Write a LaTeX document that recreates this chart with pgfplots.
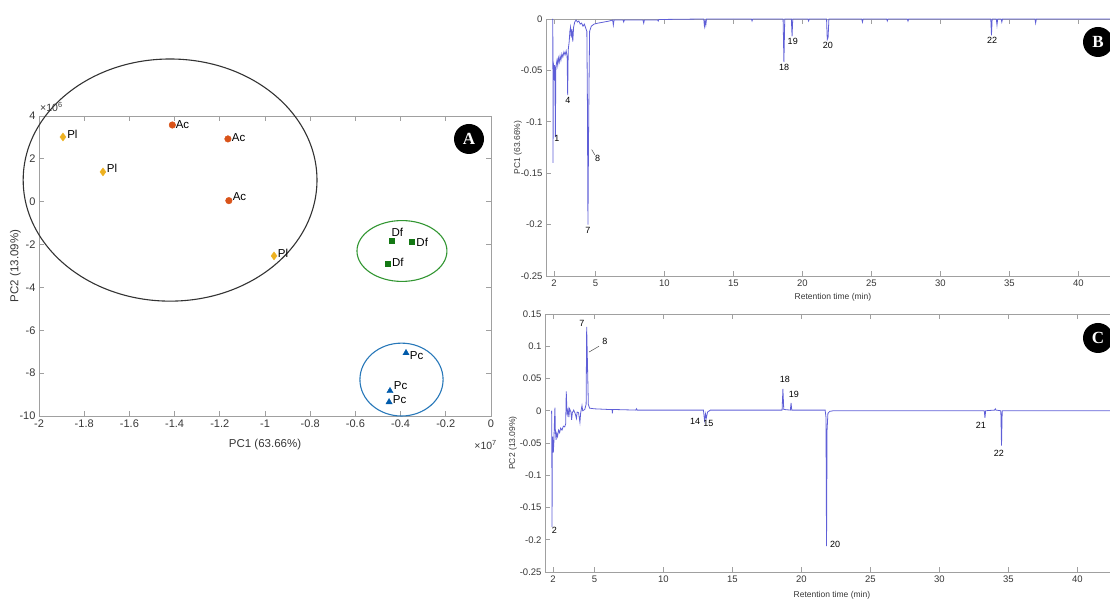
\documentclass[border=0pt]{standalone}
\usepackage{pgfplots}
\pgfplotsset{compat=1.18}
\usepackage{fontspec}
\setmainfont{Liberation Sans}
\newfontfamily\badgefont{Liberation Serif}
\definecolor{lineblue}{RGB}{95,95,215}
\definecolor{acc}{RGB}{217,83,25}
\definecolor{plc}{RGB}{237,177,32}
\definecolor{dfc}{RGB}{20,120,20}
\definecolor{pcc}{RGB}{0,90,170}
\definecolor{ellg}{RGB}{50,150,50}
\definecolor{ellb}{RGB}{40,120,185}
\definecolor{axgray}{RGB}{160,160,160}
\definecolor{txtgray}{RGB}{55,55,55}
\pgfplotsset{
  myax/.style={scale only axis, axis line style={axgray, line width=0.9pt},
    tick style={axgray, line width=0.9pt}, major tick length=5pt, tick align=inside,
    ticklabel style={text=txtgray}, label style={text=txtgray}},
}
\tikzset{pk/.style={font=\fontsize{9}{10}\selectfont, text=black, inner sep=1pt}}
\begin{document}
\begin{tikzpicture}[x=1pt,y=1pt]
\useasboundingbox (0pt,0pt) rectangle (1110pt,599pt);
\clip (0pt,0pt) rectangle (1110pt,599pt);

% ---------------- Panel A ----------------
\begin{axis}[myax, at={(39pt,183pt)}, anchor=south west, width=452pt, height=300pt,
  xmin=-2, xmax=0, ymin=-10, ymax=4, clip=false,
  xtick={-2,-1.8,-1.6,-1.4,-1.2,-1,-0.8,-0.6,-0.4,-0.2,0},
  xticklabels={-2,-1.8,-1.6,-1.4,-1.2,-1,-0.8,-0.6,-0.4,-0.2,0},
  ytick={-10,-8,-6,-4,-2,0,2,4},
  yticklabels={-10,-8,-6,-4,-2,0,2,4},
  tick label style={font=\fontsize{11}{13}\selectfont},
  label style={font=\fontsize{11.5}{13}\selectfont},
  xlabel={PC1 (63.66\%)}, ylabel={PC2 (13.09\%)},
  xlabel style={yshift=-5pt}, ylabel style={yshift=-8pt}]
\draw[black!80, line width=1.1pt] (axis cs:-1.42,1.01) ellipse [x radius=0.65, y radius=5.65];
\draw[ellg, line width=1.1pt] (axis cs:-0.394,-2.30) ellipse [x radius=0.199, y radius=1.42];
\draw[ellb, line width=1.1pt] (axis cs:-0.396,-8.30) ellipse [x radius=0.184, y radius=1.70];
\addplot[only marks, mark=*, mark size=3.3pt, color=acc] coordinates {(-1.41,3.58) (-1.164,2.93) (-1.16,0.05)};
\addplot[only marks, mark=diamond*, mark size=4pt, color=plc] coordinates {(-1.894,3.02) (-1.717,1.39) (-0.96,-2.53)};
\addplot[only marks, mark=square*, mark size=2.5pt, color=dfc] coordinates {(-0.438,-1.83) (-0.35,-1.85) (-0.456,-2.9)};
\addplot[only marks, mark=triangle*, mark size=3.6pt, color=pcc] coordinates {(-0.376,-7.06) (-0.447,-8.83) (-0.451,-9.35)};
\begin{scope}[every node/.style={font=\fontsize{11.5}{13}\selectfont, anchor=west, inner sep=1pt}]
\node at (axis cs:-1.40,3.62) {Ac};
\node at (axis cs:-1.152,3.0) {Ac};
\node at (axis cs:-1.148,0.22) {Ac};
\node at (axis cs:-1.88,3.15) {Pl};
\node at (axis cs:-1.705,1.55) {Pl};
\node at (axis cs:-0.948,-2.4) {Pl};
\node at (axis cs:-0.445,-1.45) {Df};
\node at (axis cs:-0.335,-1.88) {Df};
\node at (axis cs:-0.443,-2.82) {Df};
\node at (axis cs:-0.364,-7.2) {Pc};
\node at (axis cs:-0.435,-8.6) {Pc};
\node at (axis cs:-0.439,-9.25) {Pc};
\end{scope}
\end{axis}
\node[anchor=south west, inner sep=0pt, text=txtgray, font=\fontsize{10.5}{12}\selectfont] at (40pt,487pt) {×10\textsuperscript{6}};
\node[anchor=east, inner sep=0pt, text=txtgray, font=\fontsize{10.5}{12}\selectfont] at (497pt,154pt) {×10\textsuperscript{7}};
\fill[black] (469pt,460pt) circle (15pt);
\node[text=white, font=\badgefont\bfseries\fontsize{17}{17}\selectfont] at (469pt,460pt) {A};

% ---------------- Panel B ----------------
\begin{axis}[myax, at={(546pt,323pt)}, anchor=south west, width=573.8pt, height=257pt,
  xmin=1.42, xmax=43, ymin=-0.25, ymax=0,
  xtick={2,5,10,15,20,25,30,35,40}, xticklabels={2,5,10,15,20,25,30,35,40},
  ytick={-0.25,-0.2,-0.15,-0.1,-0.05,0}, yticklabels={-0.25,-0.2,-0.15,-0.1,-0.05,0},
  tick label style={font=\fontsize{9.5}{11}\selectfont},
  label style={font=\fontsize{8.5}{10}\selectfont},
  xlabel={Retention time (min)}, ylabel={PC1 (63.66\%)},
  xlabel style={yshift=0pt}, ylabel style={yshift=-8pt}]
\addplot[lineblue, line width=0.8pt] coordinates {
(1.90,0)(1.915,-0.01)(1.93,-0.14)(1.945,-0.05)(1.97,-0.045)(2.0,-0.048)(2.03,-0.06)(2.06,-0.045)(2.10,-0.115)(2.13,-0.05)(2.17,-0.044)(2.22,-0.04)(2.27,-0.045)(2.32,-0.038)(2.38,-0.042)(2.44,-0.036)(2.5,-0.04)(2.57,-0.034)(2.64,-0.037)(2.72,-0.032)(2.8,-0.035)(2.88,-0.031)(2.95,-0.036)(2.99,-0.074)(3.03,-0.03)(3.1,-0.022)(3.15,-0.012)(3.2,-0.008)(3.25,-0.018)(3.3,-0.01)(3.36,-0.022)(3.42,-0.008)(3.5,-0.003)(3.6,-0.001)(3.7,-0.003)(3.8,-0.002)(3.9,-0.005)(4.0,-0.004)(4.1,-0.007)(4.2,-0.005)(4.3,-0.009)(4.38,-0.012)(4.42,-0.08)(4.46,-0.2)(4.5,-0.12)(4.54,-0.06)(4.58,-0.012)(4.7,-0.007)(4.9,-0.005)(5.2,-0.004)(5.6,-0.003)(6.0,-0.002)(6.25,-0.001)(6.3,-0.006)(6.35,-0.001)(7.0,-0.001)(7.05,-0.003)(7.1,-0.001)(8.45,-0.001)(8.5,-0.004)(8.55,-0.001)(9.5,-0.001)(9.55,-0.002)(9.6,-0.0005)(12.85,0)(12.9,-0.007)(12.95,-0.002)(13.0,-0.006)(13.05,0)(16.3,0)(16.35,-0.002)(16.4,0)(18.6,0)(18.66,-0.042)(18.72,0)(19.2,0)(19.25,-0.017)(19.3,0)(20.4,0)(20.45,-0.002)(20.5,0)(21.75,0)(21.8,-0.02)(21.86,-0.018)(21.92,0)(24.3,0)(24.35,-0.003)(24.4,0)(26.1,0)(26.15,-0.002)(26.2,0)(27.6,0)(27.65,-0.002)(27.7,0)(33.65,0)(33.7,-0.016)(33.75,0)(34.05,0)(34.1,-0.006)(34.15,0)(34.4,0)(34.45,-0.003)(34.5,0)(36.85,0)(36.9,-0.004)(36.95,0)(43,0)};
\node[pk] at (axis cs:2.2,-0.116) {1};
\node[pk] at (axis cs:3.0,-0.079) {4};
\draw[black!70, line width=0.5pt] (axis cs:4.73,-0.127) -- (axis cs:4.95,-0.132);
\node[pk, anchor=north west] at (axis cs:4.9,-0.131) {8};
\node[pk, anchor=north] at (axis cs:4.46,-0.201) {7};
\node[pk, anchor=north] at (axis cs:18.67,-0.043) {18};
\node[pk, anchor=north] at (axis cs:19.3,-0.018) {19};
\node[pk, anchor=north] at (axis cs:21.85,-0.021) {20};
\node[pk, anchor=north] at (axis cs:33.75,-0.017) {22};
\end{axis}
\fill[black] (1098pt,557pt) circle (15pt);
\node[text=white, font=\badgefont\bfseries\fontsize{17}{17}\selectfont] at (1098pt,557pt) {B};

% ---------------- Panel C ----------------
\begin{axis}[myax, at={(545pt,27pt)}, anchor=south west, width=573.8pt, height=258pt,
  xmin=1.42, xmax=43, ymin=-0.25, ymax=0.15,
  xtick={2,5,10,15,20,25,30,35,40}, xticklabels={2,5,10,15,20,25,30,35,40},
  ytick={-0.25,-0.2,-0.15,-0.1,-0.05,0,0.05,0.1,0.15},
  yticklabels={-0.25,-0.2,-0.15,-0.1,-0.05,0,0.05,0.1,0.15},
  tick label style={font=\fontsize{9.5}{11}\selectfont},
  label style={font=\fontsize{8.5}{10}\selectfont},
  xlabel={Retention time (min)}, ylabel={PC2 (13.09\%)},
  xlabel style={yshift=-2pt}, ylabel style={yshift=-4pt}]
\addplot[lineblue, line width=0.8pt] coordinates {
(1.90,0)(1.915,-0.05)(1.93,-0.18)(1.945,-0.06)(1.98,-0.04)(2.02,-0.065)(2.06,-0.05)(2.10,-0.02)(2.14,0.005)(2.17,-0.03)(2.22,-0.045)(2.27,-0.035)(2.33,-0.04)(2.40,-0.03)(2.48,-0.034)(2.55,-0.027)(2.65,-0.03)(2.75,-0.024)(2.85,-0.025)(2.92,-0.02)(2.96,0.03)(3.0,0.005)(3.04,-0.005)(3.1,0.002)(3.15,-0.01)(3.2,0.003)(3.3,-0.002)(3.35,-0.014)(3.4,-0.003)(3.5,0.001)(3.6,-0.004)(3.7,-0.012)(3.75,-0.002)(3.85,-0.003)(3.95,-0.018)(4.0,-0.004)(4.1,0.008)(4.15,0)(4.3,0.002)(4.4,0.01)(4.44,0.13)(4.48,0.09)(4.52,0.05)(4.56,0.01)(4.65,0.004)(5,0.003)(6,0.002)(6.28,0.002)(6.3,-0.004)(6.33,0.002)(8.0,0.001)(8.05,0.003)(8.1,0.001)(12.9,0.001)(12.98,-0.015)(13.05,-0.005)(13.1,-0.012)(13.2,-0.002)(13.4,0.001)(18.6,0.001)(18.66,0.034)(18.72,0.002)(19.2,0.001)(19.25,0.012)(19.3,0.001)(21.72,0.001)(21.78,-0.01)(21.82,-0.21)(21.86,-0.03)(21.92,-0.004)(22.05,-0.001)(22.3,0)(33.25,0)(33.3,-0.011)(33.35,0)(34.0,0.001)(34.05,0.003)(34.1,0.001)(34.45,0)(34.5,-0.054)(34.55,0)(43,0)};
\node[pk] at (axis cs:4.1,0.136) {7};
\draw[black!70, line width=0.5pt] (axis cs:4.61,0.091) -- (axis cs:5.33,0.1);
\node[pk] at (axis cs:5.75,0.107) {8};
\node[pk] at (axis cs:18.8,0.048) {18};
\node[pk] at (axis cs:19.45,0.026) {19};
\node[pk] at (axis cs:12.3,-0.017) {14};
\node[pk] at (axis cs:13.25,-0.02) {15};
\node[pk] at (axis cs:2.1,-0.186) {2};
\node[pk] at (axis cs:22.45,-0.207) {20};
\node[pk] at (axis cs:33.0,-0.022) {21};
\node[pk] at (axis cs:34.3,-0.066) {22};
\end{axis}
\fill[black] (1098pt,261pt) circle (15pt);
\node[text=white, font=\badgefont\bfseries\fontsize{17}{17}\selectfont] at (1098pt,261pt) {C};
\end{tikzpicture}
\end{document}
